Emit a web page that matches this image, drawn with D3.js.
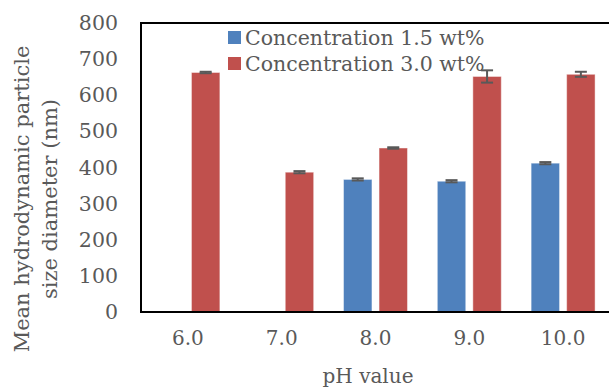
<!DOCTYPE html>
<html><head><meta charset="utf-8">
<script src="https://cdn.jsdelivr.net/npm/d3@7"></script>
<style>body{margin:0;background:#fff}svg{display:block}</style>
</head><body>
<script>
const categories = ["6.0","7.0","8.0","9.0","10.0"];
const seriesNames = ["Concentration 1.5 wt%","Concentration 3.0 wt%"];
const conc15 = [null, null, 367, 362, 412];
const conc15Err = [null, null, 3, 3, 3];
const conc30 = [663, 387, 454, 652, 658];
const conc30Err = [2, 3, 2, 17, 7];
const yTicks = [0,100,200,300,400,500,600,700,800];
const colors = ["#4F81BD","#C0504D"];

const W=609,H=388;
const m={l:141,r:-1,t:23,b:76};
const font="'DejaVu Serif', Georgia, serif";
const svg=d3.select("body").append("svg").attr("width",W).attr("height",H);
const x=d3.scaleBand().domain(categories).range([m.l,W-m.r]).paddingInner(0).paddingOuter(0);
const x1=d3.scaleBand().domain([0,1]).range([0,x.bandwidth()]).paddingInner(0.2).paddingOuter(0.42);
const y=d3.scaleLinear().domain([0,800]).range([H-m.b,m.t]);

const series=[conc15,conc30], errs=[conc15Err,conc30Err];
series.forEach((vals,si)=>{
  const g=svg.append("g");
  const d=categories.map((c,i)=>({c,v:vals[i],e:errs[si][i]})).filter(o=>o.v!=null);
  g.selectAll("rect").data(d).join("rect")
    .attr("x",o=>x(o.c)+x1(si)).attr("width",x1.bandwidth())
    .attr("y",o=>y(o.v)).attr("height",o=>y(0)-y(o.v))
    .attr("fill",colors[si]).attr("stroke","rgba(255,255,255,0.45)").attr("stroke-width",1);
  const eg=g.selectAll("g.err").data(d).join("g").attr("class","err")
    .attr("stroke","#595959").attr("stroke-width",2);
  const cx=o=>x(o.c)+x1(si)+x1.bandwidth()/2;
  eg.append("line").attr("x1",cx).attr("x2",cx).attr("y1",o=>y(o.v+o.e)).attr("y2",o=>y(o.v-o.e));
  eg.append("line").attr("x1",o=>cx(o)-6).attr("x2",o=>cx(o)+6).attr("y1",o=>y(o.v+o.e)).attr("y2",o=>y(o.v+o.e));
  eg.append("line").attr("x1",o=>cx(o)-6).attr("x2",o=>cx(o)+6).attr("y1",o=>y(o.v-o.e)).attr("y2",o=>y(o.v-o.e));
});

// frame
svg.append("path").attr("d",`M${W+1},${m.t}H${m.l}V${H-m.b}H${W+1}`)
  .attr("fill","none").attr("stroke","#000").attr("stroke-width",2);

// y axis labels
const ya=svg.append("g").attr("transform",`translate(${m.l},0)`)
  .call(d3.axisLeft(y).tickValues(yTicks).tickSize(0).tickPadding(23));
ya.select(".domain").remove();
ya.selectAll("text").attr("font-family",font).attr("font-size",20.5).attr("fill","#595959");

// x axis labels
const xa=svg.append("g").attr("transform",`translate(0,${H-m.b})`)
  .call(d3.axisBottom(x).tickSize(0).tickPadding(19));
xa.select(".domain").remove();
xa.selectAll("text").attr("font-family",font).attr("font-size",20).attr("fill","#595959");

svg.append("text").attr("x",368).attr("y",383).attr("text-anchor","middle")
  .attr("font-family",font).attr("font-size",20).attr("fill","#595959").text("pH value");

const yt=svg.append("text").attr("transform","translate(0,199) rotate(-90)")
  .attr("text-anchor","middle").attr("font-family",font).attr("font-size",21).attr("fill","#595959");
yt.append("tspan").attr("x",0).attr("y",29).text("Mean hydrodynamic particle");
yt.append("tspan").attr("x",0).attr("y",57).text("size diameter (nm)");

// legend
const lg=svg.append("g").attr("transform","translate(228,31)");
seriesNames.forEach((n,i)=>{
  lg.append("rect").attr("x",0).attr("y",i*26).attr("width",13).attr("height",13).attr("fill",colors[i]);
  lg.append("text").attr("x",17).attr("y",i*26+14).attr("font-family",font).attr("font-size",20.5)
    .attr("fill","#595959").text(n);
});
</script>
</body></html>
